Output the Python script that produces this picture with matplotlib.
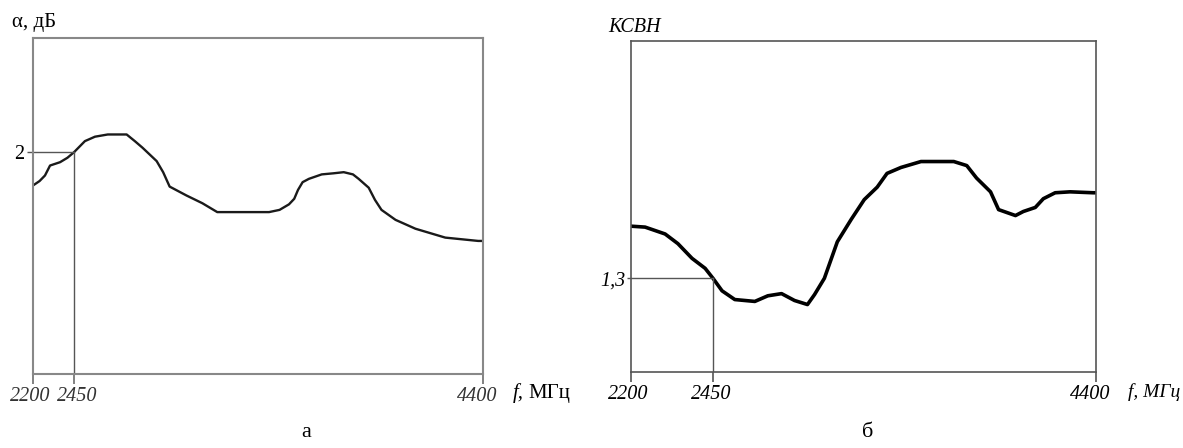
import numpy as np
import matplotlib
matplotlib.use("Agg")
import matplotlib.pyplot as plt
import matplotlib.transforms as mtrans

# (а) attenuation, dB
f_a = [2200, 2240, 2273, 2304, 2365, 2410, 2450, 2502, 2550, 2611, 2701, 2740,
       2777, 2844, 2875, 2906, 2986, 3062, 3133, 3380, 3430, 3475, 3500, 3518,
       3540, 3570, 3631, 3688, 3736, 3780, 3807, 3855, 3885, 3916, 3983, 4078,
       4220, 4377, 4400]
alpha = [1.70, 1.74, 1.79, 1.88, 1.91, 1.95, 2.00, 2.10, 2.14, 2.16, 2.16, 2.10,
         2.04, 1.92, 1.82, 1.69, 1.61, 1.54, 1.46, 1.46, 1.48, 1.53, 1.58, 1.66,
         1.73, 1.76, 1.80, 1.81, 1.82, 1.80, 1.76, 1.68, 1.57, 1.48, 1.39, 1.31,
         1.23, 1.20, 1.20]

# (б) VSWR
f_b = [2200, 2243, 2304, 2343, 2386, 2426, 2450, 2496, 2561, 2663, 2729, 2799,
       2865, 2931, 2967, 3017, 3083, 3154, 3220, 3286, 3336, 3407, 3509, 3676,
       3742, 3792, 3863, 3904, 3990, 4030, 4091, 4132, 4192, 4268, 4385, 4400]
vswr = [1.467, 1.464, 1.442, 1.411, 1.364, 1.332, 1.300, 1.260, 1.232, 1.226,
        1.244, 1.251, 1.229, 1.216, 1.248, 1.300, 1.417, 1.489, 1.552, 1.592,
        1.636, 1.655, 1.674, 1.674, 1.661, 1.621, 1.577, 1.520, 1.501, 1.514,
        1.527, 1.555, 1.574, 1.577, 1.574, 1.574]

xticks = [2200, 2450, 4400]
xticklabels = ["2200", "2450", "4400"]

SERIF = "Liberation Serif"


def make_scale(u):
    # the drawing is not to scale: 2450 sits at fraction u of the axis
    def fwd(x):
        x = np.asarray(x, dtype=float)
        return np.where(x < 2450, (x - 2200) / 250 * u, u + (x - 2450) / 1950 * (1 - u))

    def inv(t):
        t = np.asarray(t, dtype=float)
        return np.where(t < u, 2200 + t / u * 250, 2450 + (t - u) / (1 - u) * 1950)
    return fwd, inv


def nudge(ax, shifts):
    for lbl, dx in zip(ax.get_xticklabels(), shifts):
        lbl.set_transform(lbl.get_transform() +
                          mtrans.ScaledTranslation(dx / 100, 0, fig.dpi_scale_trans))


fig = plt.figure(figsize=(11.83, 4.48), dpi=100)

# ---- panel а ----
ax1 = fig.add_axes([33 / 1183, 74 / 448, 450 / 1183, 336 / 448])
ax1.set_xscale("function", functions=make_scale(41 / 450))
ax1.plot(f_a, alpha, color="#1a1a1a", lw=1.7, solid_joinstyle="round")
ax1.plot([2200, 2450], [2, 2], color="#555555", lw=1.0)
ax1.plot([2450, 2450], [0, 2], color="#555555", lw=1.0)
ax1.set_xlim(2200, 4400)
ax1.set_ylim(0, 3.03)
ax1.set_xticks(xticks)
ax1.set_xticklabels(xticklabels, family=SERIF, style="italic", size=14.5, color="#333333")
ax1.set_yticks([2])
ax1.set_yticklabels(["2"], family=SERIF, size=14.5)
ax1.tick_params(axis="x", length=7, width=1.3, color="#777777", pad=2)
ax1.tick_params(axis="y", length=4, width=1.0, color="#555555", pad=2)
nudge(ax1, [-3, 3, -6])
for s in ax1.spines.values():
    s.set_color("#888888")
    s.set_linewidth(1.5)
ax1.text(12 / 1183, 1 - 23 / 448, "α, дБ", transform=fig.transFigure,
         family=SERIF, size=15, va="center", ha="left")
ax1.annotate("f,", xy=(1, 0), xycoords="axes fraction", xytext=(30, -19),
             textcoords="offset pixels", family=SERIF, style="italic",
             size=15, ha="left", va="center")
ax1.annotate("МГц", xy=(1, 0), xycoords="axes fraction", xytext=(45, -19),
             textcoords="offset pixels", family=SERIF, size=15, ha="left", va="center")

# ---- panel б ----
ax2 = fig.add_axes([631 / 1183, 76 / 448, 465 / 1183, 331 / 448])
ax2.set_xscale("function", functions=make_scale(82 / 465))
ax2.plot(f_b, vswr, color="black", lw=2.6, solid_joinstyle="round")
ax2.plot([2200, 2450], [1.3, 1.3], color="#555555", lw=1.0)
ax2.plot([2450, 2450], [1.0, 1.3], color="#555555", lw=1.0)
ax2.set_xlim(2200, 4400)
ax2.set_ylim(1.0, 2.06)
ax2.set_xticks(xticks)
ax2.set_xticklabels(xticklabels, family=SERIF, style="italic", size=14.5)
ax2.set_yticks([1.3])
ax2.set_yticklabels(["1,3"], family=SERIF, style="italic", size=14.5)
ax2.tick_params(axis="x", length=7, width=1.2, color="#555555", pad=2)
ax2.tick_params(axis="y", length=3, width=1.0, color="#555555", pad=1)
nudge(ax2, [-3, -2, -6])
for s in ax2.spines.values():
    s.set_color("#555555")
    s.set_linewidth(1.2)
ax2.text(608 / 1183, 1 - 28 / 448, "КСВН", transform=fig.transFigure,
         family=SERIF, style="italic", size=14.5, va="center", ha="left")
ax2.annotate("f, МГц", xy=(1, 0), xycoords="axes fraction", xytext=(32, -20),
             textcoords="offset pixels", family=SERIF, style="italic",
             size=14, ha="left", va="center")

# captions
fig.text(306 / 1183, 1 - 432 / 448, "а", family=SERIF, size=16, ha="center", va="center")
fig.text(868 / 1183, 1 - 432 / 448, "б", family=SERIF, size=16, ha="center", va="center")

fig.savefig("out.png", dpi=100)
